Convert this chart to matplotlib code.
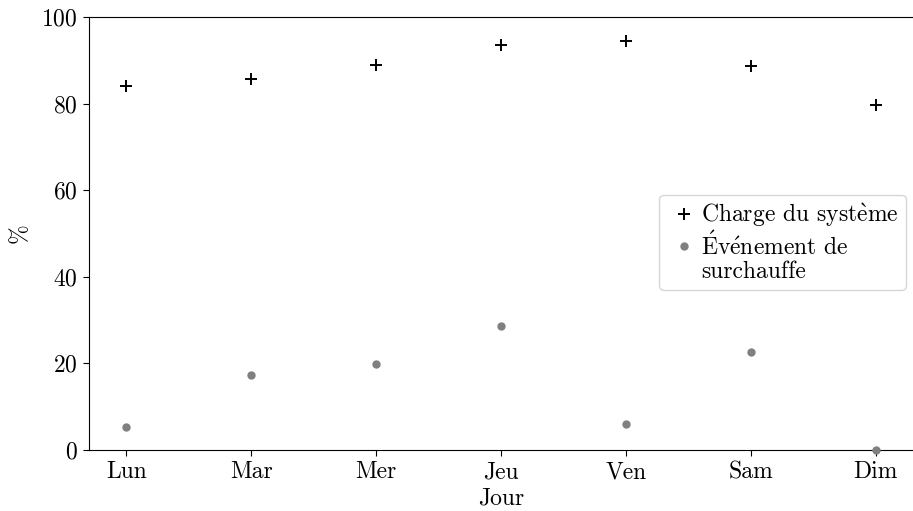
import matplotlib
matplotlib.use("Agg")
import matplotlib.pyplot as plt
from matplotlib.legend_handler import HandlerLine2D
import numpy as np

# données
jours = ["Lun", "Mar", "Mer", "Jeu", "Ven", "Sam", "Dim"]
charge = [84.0, 85.6, 89.0, 93.5, 94.4, 88.6, 79.6]
surchauffe = [5.2, 17.3, 19.8, 28.6, 6.0, 22.6, 0.0]


class HandlerHaut(HandlerLine2D):
    """marqueur aligné sur la première ligne d'une étiquette sur deux lignes"""
    def create_artists(self, legend, orig_handle, xdescent, ydescent,
                       width, height, fontsize, trans):
        return super().create_artists(legend, orig_handle, xdescent,
                                      ydescent - fontsize, width, height,
                                      fontsize, trans)


plt.rcParams["font.family"] = ["cmr10", "DejaVu Serif"]
plt.rcParams["mathtext.fontset"] = "cm"
plt.rcParams["axes.formatter.use_mathtext"] = True
plt.rcParams["font.size"] = 17

fig = plt.figure(figsize=(9.13, 5.11), dpi=100)
ax = fig.add_axes([89 / 913, 1 - 450 / 511, 1 - 89 / 913, (450 - 17) / 511])

x = np.arange(len(jours))
# les accents passent par mathtext (cmr10 n'a pas les glyphes accentués)
ax.plot(x, charge, linestyle="none", marker="+", ms=9, mew=1.4, color="black",
        label=r"Charge du $\mathrm{syst\grave{e}me}$", clip_on=False, zorder=3)
l2, = ax.plot(x, surchauffe, linestyle="none", marker="o", ms=5, color="grey",
              label="$\\mathrm{\\acute{E}v\\acute{e}nement}$ de\nsurchauffe",
              clip_on=False, zorder=3)

ax.set_xlim(-0.3, 6.3)
ax.set_ylim(0, 100)
ax.set_xticks(x)
ax.set_xticklabels(jours)
ax.set_yticks([0, 20, 40, 60, 80, 100])
ax.tick_params(length=4.5)
ax.set_xlabel("Jour", labelpad=3)
ax.set_ylabel("%", labelpad=8)
ax.spines["right"].set_visible(False)

leg = ax.legend(loc="center right", bbox_to_anchor=(1.0, 0.48), handlelength=1.5,
                handletextpad=0.0, borderpad=0.3, labelspacing=0.1,
                borderaxespad=0.3, handler_map={l2: HandlerHaut()})
for t in leg.get_texts():
    t.set_linespacing(1.0)

fig.savefig("out.png", dpi=100)
